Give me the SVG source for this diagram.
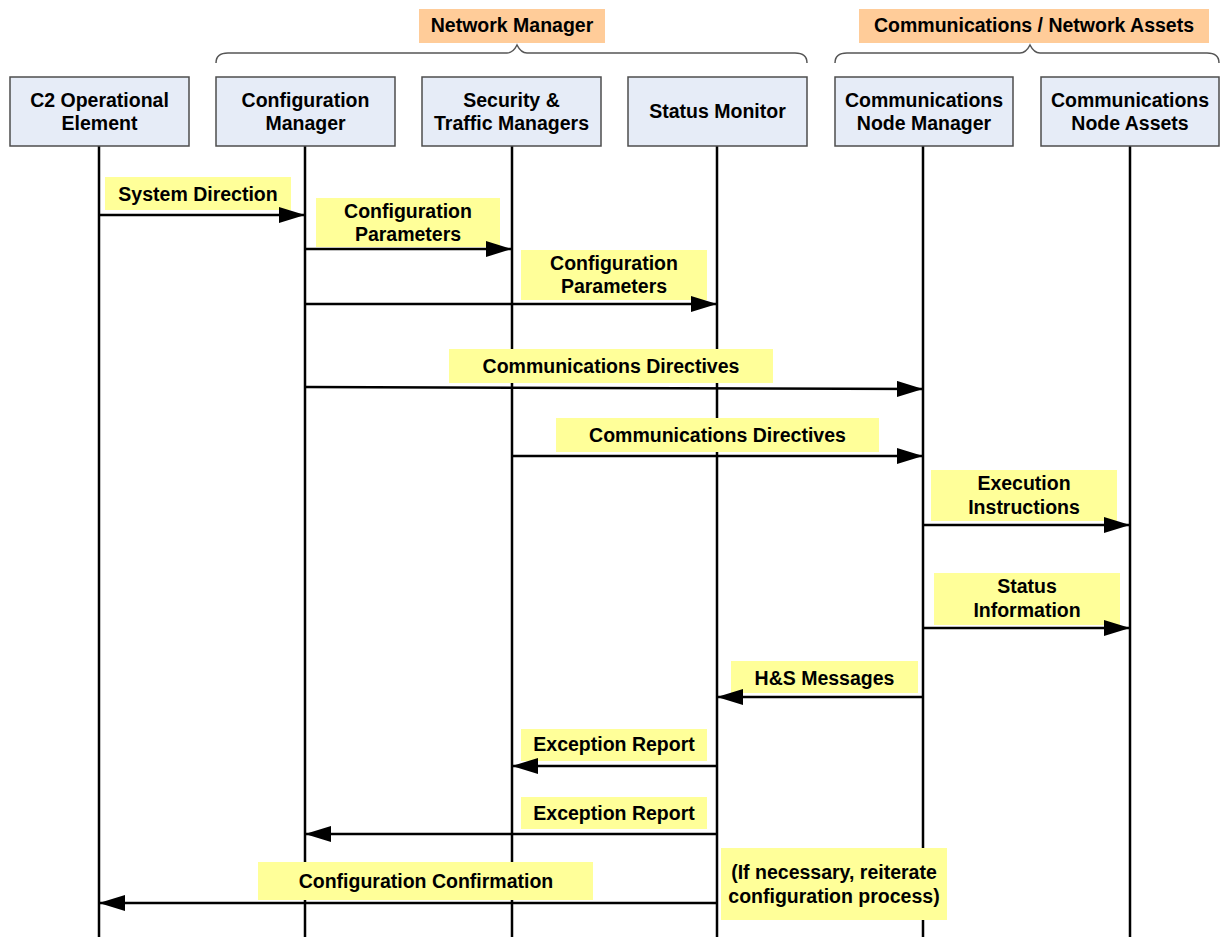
<svg xmlns="http://www.w3.org/2000/svg" width="1220" height="937" viewBox="0 0 1220 937">
<style>
text{font-family:"Liberation Sans",Arial,sans-serif;font-weight:bold;font-size:19.5px;fill:#000;text-anchor:middle}
.box{fill:#E6ECF7;stroke:#4d4d4d;stroke-width:1.5}
.life{stroke:#000;stroke-width:2.5}
.grp{fill:#FFCC99}
.lbl{fill:#FFFF99}
.brace{fill:none;stroke:#555;stroke-width:1.5}
.msg{stroke:#000;stroke-width:2.5;fill:none;marker-end:url(#ah)}
</style>
<defs>
<marker id="ah" markerUnits="userSpaceOnUse" markerWidth="28" markerHeight="18" refX="26" refY="8" orient="auto">
<path d="M0,0 L26,8 L0,16 Z" fill="#000"/>
</marker>
</defs>
<rect width="1220" height="937" fill="#fff"/>
<g id="group-network-manager">
<rect class="grp" x="419" y="9" width="186" height="34"/>
<text x="512" y="32">Network Manager</text>
<path class="brace" d="M216,63 Q216,53 228,53 L507,53 Q513,53 517,45 Q521,53 527,53 L795,53 Q807,53 807,63"/>
</g>
<g id="group-comm-assets">
<rect class="grp" x="859" y="9" width="350" height="34"/>
<text x="1034" y="32">Communications / Network Assets</text>
<path class="brace" d="M835,63 Q835,53 847,53 L1020,53 Q1026,53 1030,45 Q1034,53 1040,53 L1207,53 Q1219,53 1219,63"/>
</g>
<g id="node-c2">
<line class="life" x1="99" y1="146" x2="99" y2="937"/>
<rect class="box" x="10" y="77" width="179" height="69"/>
<text x="99.5" y="107">C2 Operational</text>
<text x="99.5" y="130">Element</text>
</g>
<g id="node-config">
<line class="life" x1="305" y1="146" x2="305" y2="937"/>
<rect class="box" x="216" y="77" width="179" height="69"/>
<text x="305.5" y="107">Configuration</text>
<text x="305.5" y="130">Manager</text>
</g>
<g id="node-security">
<line class="life" x1="512" y1="146" x2="512" y2="937"/>
<rect class="box" x="422" y="77" width="179" height="69"/>
<text x="511.5" y="107">Security &amp;</text>
<text x="511.5" y="130">Traffic Managers</text>
</g>
<g id="node-status">
<line class="life" x1="717" y1="146" x2="717" y2="937"/>
<rect class="box" x="628" y="77" width="179" height="69"/>
<text x="717.5" y="118">Status Monitor</text>
</g>
<g id="node-cnm">
<line class="life" x1="923" y1="146" x2="923" y2="937"/>
<rect class="box" x="835" y="77" width="178" height="69"/>
<text x="924" y="107">Communications</text>
<text x="924" y="130">Node Manager</text>
</g>
<g id="node-cna">
<line class="life" x1="1130" y1="146" x2="1130" y2="937"/>
<rect class="box" x="1041" y="77" width="178" height="69"/>
<text x="1130" y="107">Communications</text>
<text x="1130" y="130">Node Assets</text>
</g>
<g id="connectors">
<rect class="lbl" x="105" y="177" width="186" height="33"/>
<text x="198" y="201">System Direction</text>
<line class="msg" x1="99" y1="215" x2="305" y2="215"/>

<rect class="lbl" x="316" y="198" width="184" height="49"/>
<text x="408" y="218">Configuration</text>
<text x="408" y="241">Parameters</text>
<line class="msg" x1="305" y1="249" x2="512" y2="249"/>

<rect class="lbl" x="521" y="250" width="186" height="50"/>
<text x="614" y="270">Configuration</text>
<text x="614" y="293">Parameters</text>
<line class="msg" x1="305" y1="304" x2="717" y2="304"/>

<rect class="lbl" x="449" y="349" width="324" height="34"/>
<text x="611" y="373">Communications Directives</text>
<line class="msg" x1="305" y1="387" x2="923" y2="389"/>

<rect class="lbl" x="556" y="418" width="323" height="34"/>
<text x="717.5" y="442">Communications Directives</text>
<line class="msg" x1="512" y1="456" x2="923" y2="456"/>

<rect class="lbl" x="931" y="470" width="186" height="51"/>
<text x="1024" y="490">Execution</text>
<text x="1024" y="514">Instructions</text>
<line class="msg" x1="923" y1="525" x2="1130" y2="525"/>

<rect class="lbl" x="934" y="573" width="186" height="52"/>
<text x="1027" y="593">Status</text>
<text x="1027" y="617">Information</text>
<line class="msg" x1="923" y1="628" x2="1130" y2="628"/>

<rect class="lbl" x="731" y="661" width="187" height="32"/>
<text x="824.5" y="685">H&amp;S Messages</text>
<line class="msg" x1="923" y1="697" x2="717" y2="697"/>

<rect class="lbl" x="521" y="729" width="186" height="32"/>
<text x="614" y="751">Exception Report</text>
<line class="msg" x1="717" y1="766" x2="512" y2="766"/>

<rect class="lbl" x="521" y="797" width="186" height="32"/>
<text x="614" y="820">Exception Report</text>
<line class="msg" x1="717" y1="834" x2="305" y2="834"/>

<rect class="lbl" x="258" y="862" width="335" height="38"/>
<text x="426" y="888">Configuration Confirmation</text>
<line class="msg" x1="717" y1="903" x2="99" y2="903"/>

<rect class="lbl" x="721" y="848" width="226" height="72"/>
<text x="834" y="879">(If necessary, reiterate</text>
<text x="834" y="903">configuration process)</text>
</g>
</svg>
